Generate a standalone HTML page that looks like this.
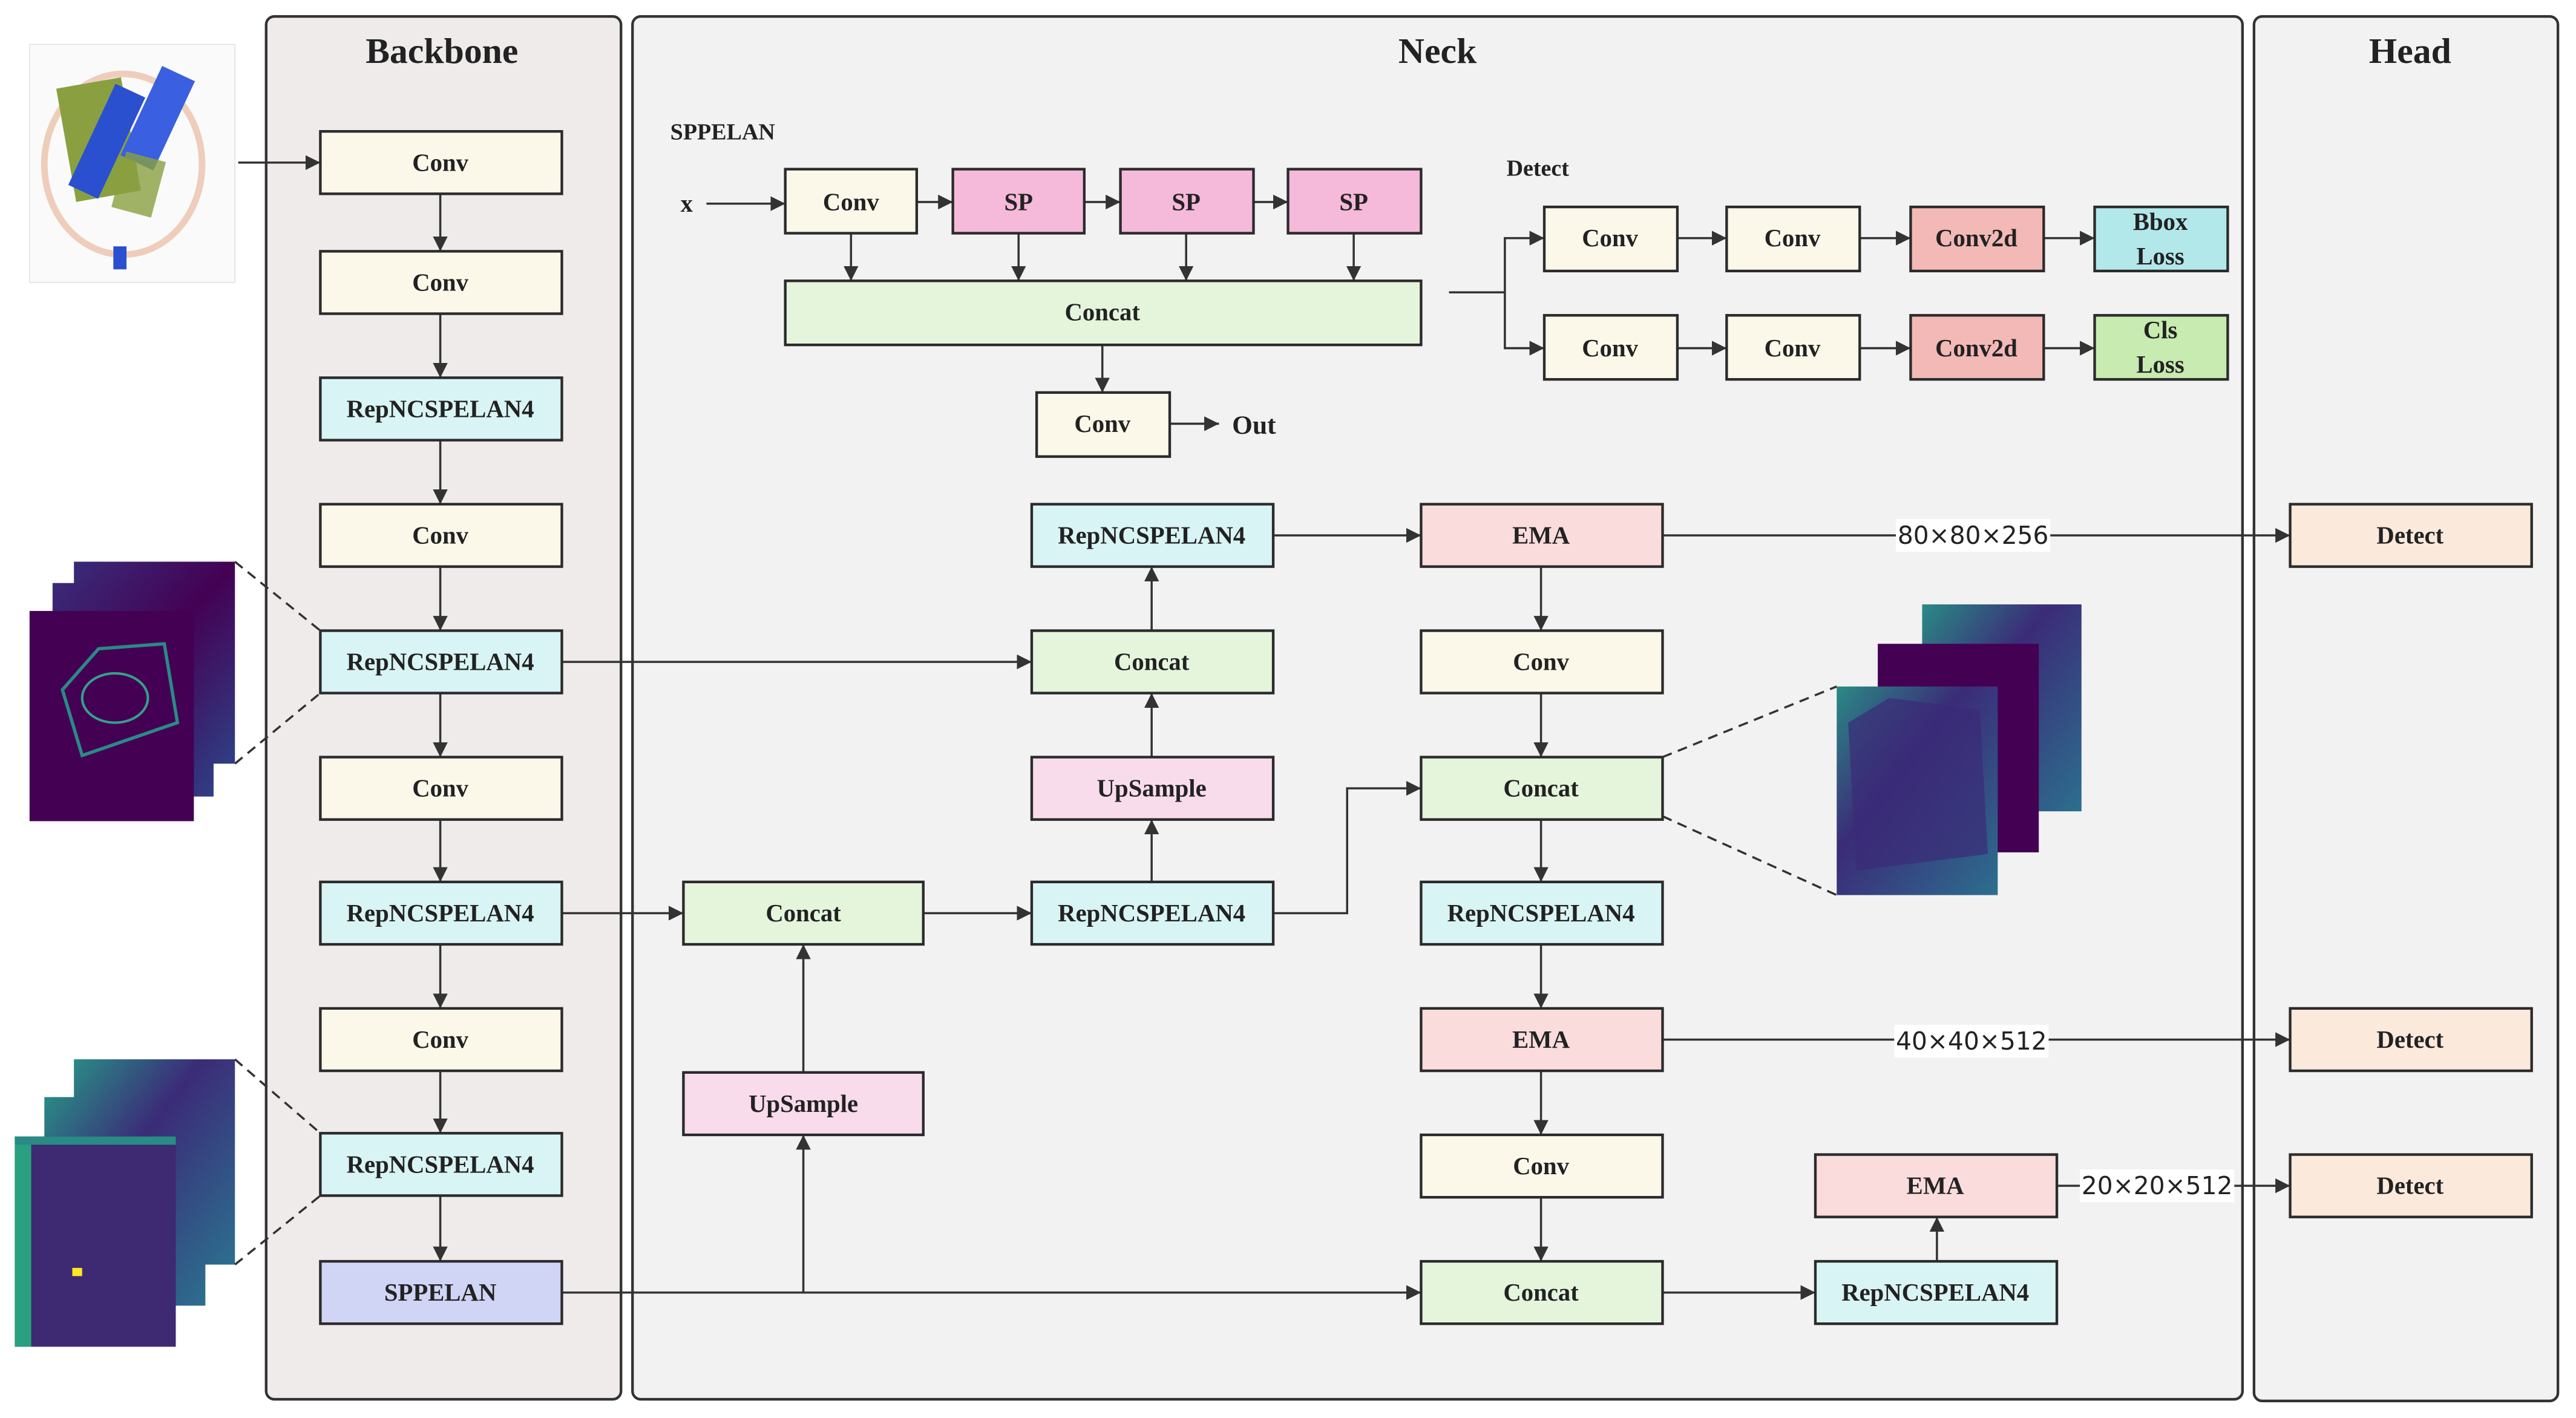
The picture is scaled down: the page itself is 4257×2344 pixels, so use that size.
<!DOCTYPE html>
<html><head><meta charset="utf-8"><style>html,body{margin:0;padding:0;background:#fff}svg{display:block}</style></head>
<body>
<svg width="4257" height="2344" viewBox="0 0 1568 863.4" preserveAspectRatio="none" xmlns="http://www.w3.org/2000/svg">
<defs>
<marker id="a" viewBox="0 0 10 10" refX="10" refY="5" markerWidth="9" markerHeight="9" markerUnits="userSpaceOnUse" orient="auto"><path d="M0,0L10,5L0,10z" fill="#333"/></marker>
<linearGradient id="g1" x1="0" y1="0" x2="1" y2="1"><stop offset="0" stop-color="#3a2a78"/><stop offset="0.5" stop-color="#440154"/><stop offset="1" stop-color="#2f3f85"/></linearGradient>
<linearGradient id="g2" x1="0" y1="0" x2="1" y2="1"><stop offset="0" stop-color="#2a8a86"/><stop offset="0.4" stop-color="#3b2b78"/><stop offset="1" stop-color="#2c6f8e"/></linearGradient>
</defs>
<style>
text{font-family:"Liberation Serif",serif;font-weight:bold;fill:#222}
.b{stroke:#2b2b2b;stroke-width:1.6}
.t{font-size:15px;text-anchor:middle;dominant-baseline:central}
.l{stroke:#333;stroke-width:1.3;fill:none}
.d{stroke:#333;stroke-width:1.3;fill:none;stroke-dasharray:6,4}
.lab{font-family:"DejaVu Sans",sans-serif;font-weight:normal;font-size:15px;text-anchor:middle;dominant-baseline:central}
</style>
<!-- panels -->
<rect x="162" y="10" width="216" height="842" rx="5" fill="#efebea" stroke="#333" stroke-width="1.6"/>
<rect x="385" y="10" width="980" height="842" rx="5" fill="#f2f2f2" stroke="#333" stroke-width="1.6"/>
<rect x="1372" y="10" width="185" height="843" rx="5" fill="#f2f2f2" stroke="#333" stroke-width="1.6"/>
<text x="269" y="31" font-size="22" text-anchor="middle" dominant-baseline="central">Backbone</text>
<text x="875" y="31" font-size="22" text-anchor="middle" dominant-baseline="central">Neck</text>
<text x="1467" y="31" font-size="22" text-anchor="middle" dominant-baseline="central">Head</text>

<!-- input image -->
<rect x="18" y="27" width="125" height="145" fill="#fafafa" stroke="#ddd" stroke-width="0.5"/>
<ellipse cx="75" cy="100" rx="48" ry="55" fill="none" stroke="#e8b9a0" stroke-width="4" opacity="0.7"/>
<rect x="40" y="50" width="40" height="70" fill="#8aa040" transform="rotate(-10 60 85)"/>
<rect x="55" y="52" width="20" height="68" fill="#2a50d0" transform="rotate(25 65 86)"/>
<rect x="85" y="42" width="22" height="60" fill="#3a5fe0" transform="rotate(25 96 72)"/>
<rect x="72" y="95" width="25" height="35" fill="#8aa040" opacity="0.8" transform="rotate(15 85 112)"/>
<rect x="69" y="150" width="8" height="14" fill="#2a50d0"/>

<!-- feature stacks left top -->
<rect x="45" y="342" width="98" height="123" fill="url(#g1)"/>
<rect x="32" y="355" width="98" height="130" fill="url(#g1)"/>
<rect x="18" y="372" width="100" height="128" fill="#440154"/>
<path d="M38,420 L60,395 L100,392 L108,440 L50,460 Z" fill="none" stroke="#2a8a86" stroke-width="2"/>
<ellipse cx="70" cy="425" rx="20" ry="15" fill="none" stroke="#35a08a" stroke-width="1.5"/>
<!-- feature stacks left bottom -->
<rect x="45" y="645" width="98" height="125" fill="url(#g2)"/>
<rect x="27" y="668" width="98" height="127" fill="url(#g2)"/>
<rect x="9" y="692" width="98" height="128" fill="#3d2a72"/>
<rect x="9" y="692" width="10" height="128" fill="#2aa080"/>
<rect x="9" y="692" width="98" height="5" fill="#2a8a86"/>
<rect x="44" y="772" width="6" height="5" fill="#fde725"/>
<!-- feature stacks right -->
<rect x="1170" y="368" width="97" height="126" fill="url(#g2)"/>
<rect x="1143" y="392" width="98" height="127" fill="#440154"/>
<rect x="1118" y="418" width="98" height="127" fill="url(#g2)"/>
<path d="M1125,440 L1150,425 L1205,432 L1210,520 L1130,530 Z" fill="#3b2b78" opacity="0.7"/>

<!-- dashed -->
<path class="d" d="M143,342L195,384M143,465L195,422M143,645L195,690M143,770L195,728M1012,461L1118,418M1012,497L1118,545"/>

<!-- connectors -->
<g class="l" marker-end="url(#a)">
<path d="M145,99H195"/>
<path d="M268,118V153"/><path d="M268,191V230"/><path d="M268,268V307"/><path d="M268,345V384"/><path d="M268,422V461"/><path d="M268,499V537"/><path d="M268,575V614"/><path d="M268,652V690"/><path d="M268,728V768"/>
<path d="M430,124H478"/><path d="M558,123H580"/><path d="M660,123H682"/><path d="M763,123H784"/>
<path d="M518,142V171"/><path d="M620,142V171"/><path d="M722,142V171"/><path d="M824,142V171"/>
<path d="M671,210V239"/><path d="M712,258H742"/>
<path d="M882,178H916V145H940"/><path d="M916,178V212H940"/>
<path d="M1021,145H1051"/><path d="M1132,145H1163"/><path d="M1244,145H1275"/>
<path d="M1021,212H1051"/><path d="M1132,212H1163"/><path d="M1244,212H1275"/>
<path d="M342,403H628"/>
<path d="M342,556H416"/><path d="M562,556H628"/><path d="M775,556H820V480H865"/>
<path d="M701,537V499"/><path d="M701,461V422"/><path d="M701,384V345"/>
<path d="M775,326H865"/><path d="M1012,326H1394"/>
<path d="M938,345V384"/><path d="M938,422V461"/><path d="M938,499V537"/><path d="M938,575V614"/><path d="M938,652V691"/><path d="M938,729V768"/>
<path d="M1012,633H1394"/>
<path d="M342,787H865"/><path d="M489,787V691"/><path d="M489,653V575"/>
<path d="M1012,787H1105"/><path d="M1179,768V741"/><path d="M1252,722H1394"/>
</g>
<rect x="1154" y="316" width="94" height="20" fill="#fff"/><text class="lab" x="1201" y="326">80×80×256</text>
<rect x="1153" y="624" width="94" height="20" fill="#fff"/><text class="lab" x="1200" y="634">40×40×512</text>
<rect x="1266" y="712" width="94" height="20" fill="#fff"/><text class="lab" x="1313" y="722">20×20×512</text>
<text x="408" y="85" font-size="14">SPPELAN</text>
<text x="418" y="124" font-size="15" font-family="Liberation Sans" dominant-baseline="central" text-anchor="middle">x</text>
<text x="750" y="259" font-size="16" font-family="Liberation Sans" dominant-baseline="central">Out</text>
<text x="917" y="107" font-size="14">Detect</text>

<!-- boxes -->
<g class="b">
<rect x="195" y="80" width="147" height="38" fill="#fbf8ea"/>
<rect x="195" y="153" width="147" height="38" fill="#fbf8ea"/>
<rect x="195" y="230" width="147" height="38" fill="#d9f4f4"/>
<rect x="195" y="307" width="147" height="38" fill="#fbf8ea"/>
<rect x="195" y="384" width="147" height="38" fill="#d9f4f4"/>
<rect x="195" y="461" width="147" height="38" fill="#fbf8ea"/>
<rect x="195" y="537" width="147" height="38" fill="#d9f4f4"/>
<rect x="195" y="614" width="147" height="38" fill="#fbf8ea"/>
<rect x="195" y="690" width="147" height="38" fill="#d9f4f4"/>
<rect x="195" y="768" width="147" height="38" fill="#d0d4f5"/>
<rect x="478" y="103" width="80" height="39" fill="#fbf8ea"/>
<rect x="580" y="103" width="80" height="39" fill="#f5b9d9"/>
<rect x="682" y="103" width="81" height="39" fill="#f5b9d9"/>
<rect x="784" y="103" width="81" height="39" fill="#f5b9d9"/>
<rect x="478" y="171" width="387" height="39" fill="#e4f5dc"/>
<rect x="631" y="239" width="81" height="39" fill="#fbf8ea"/>
<rect x="940" y="126" width="81" height="39" fill="#fbf8ea"/>
<rect x="1051" y="126" width="81" height="39" fill="#fbf8ea"/>
<rect x="1163" y="126" width="81" height="39" fill="#f3b9b6"/>
<rect x="1275" y="126" width="81" height="39" fill="#b3e8ea"/>
<rect x="940" y="192" width="81" height="39" fill="#fbf8ea"/>
<rect x="1051" y="192" width="81" height="39" fill="#fbf8ea"/>
<rect x="1163" y="192" width="81" height="39" fill="#f3b9b6"/>
<rect x="1275" y="192" width="81" height="39" fill="#c7ebb0"/>
<rect x="628" y="307" width="147" height="38" fill="#d9f4f4"/>
<rect x="628" y="384" width="147" height="38" fill="#e4f5dc"/>
<rect x="628" y="461" width="147" height="38" fill="#f9dcec"/>
<rect x="628" y="537" width="147" height="38" fill="#d9f4f4"/>
<rect x="416" y="537" width="146" height="38" fill="#e4f5dc"/>
<rect x="416" y="653" width="146" height="38" fill="#f9dcec"/>
<rect x="865" y="307" width="147" height="38" fill="#fadcdc"/>
<rect x="865" y="384" width="147" height="38" fill="#fbf8ea"/>
<rect x="865" y="461" width="147" height="38" fill="#e4f5dc"/>
<rect x="865" y="537" width="147" height="38" fill="#d9f4f4"/>
<rect x="865" y="614" width="147" height="38" fill="#fadcdc"/>
<rect x="865" y="691" width="147" height="38" fill="#fbf8ea"/>
<rect x="865" y="768" width="147" height="38" fill="#e4f5dc"/>
<rect x="1105" y="703" width="147" height="38" fill="#fadcdc"/>
<rect x="1105" y="768" width="147" height="38" fill="#d9f4f4"/>
<rect x="1394" y="307" width="147" height="38" fill="#fbe9dc"/>
<rect x="1394" y="614" width="147" height="38" fill="#fbe9dc"/>
<rect x="1394" y="703" width="147" height="38" fill="#fbe9dc"/>
</g>
<g class="t">
<text class="t" x="268" y="99">Conv</text>
<text class="t" x="268" y="172">Conv</text>
<text class="t" x="268" y="249">RepNCSPELAN4</text>
<text class="t" x="268" y="326">Conv</text>
<text class="t" x="268" y="403">RepNCSPELAN4</text>
<text class="t" x="268" y="480">Conv</text>
<text class="t" x="268" y="556">RepNCSPELAN4</text>
<text class="t" x="268" y="633">Conv</text>
<text class="t" x="268" y="709">RepNCSPELAN4</text>
<text class="t" x="268" y="787">SPPELAN</text>
<text class="t" x="518" y="123">Conv</text>
<text class="t" x="620" y="123">SP</text>
<text class="t" x="722" y="123">SP</text>
<text class="t" x="824" y="123">SP</text>
<text class="t" x="671" y="190">Concat</text>
<text class="t" x="671" y="258">Conv</text>
<text class="t" x="980" y="145">Conv</text>
<text class="t" x="1091" y="145">Conv</text>
<text class="t" x="1203" y="145">Conv2d</text>
<text class="t" x="1315" y="135">Bbox</text>
<text class="t" x="1315" y="156">Loss</text>
<text class="t" x="980" y="212">Conv</text>
<text class="t" x="1091" y="212">Conv</text>
<text class="t" x="1203" y="212">Conv2d</text>
<text class="t" x="1315" y="201">Cls</text>
<text class="t" x="1315" y="222">Loss</text>
<text class="t" x="701" y="326">RepNCSPELAN4</text>
<text class="t" x="701" y="403">Concat</text>
<text class="t" x="701" y="480">UpSample</text>
<text class="t" x="701" y="556">RepNCSPELAN4</text>
<text class="t" x="489" y="556">Concat</text>
<text class="t" x="489" y="672">UpSample</text>
<text class="t" x="938" y="326">EMA</text>
<text class="t" x="938" y="403">Conv</text>
<text class="t" x="938" y="480">Concat</text>
<text class="t" x="938" y="556">RepNCSPELAN4</text>
<text class="t" x="938" y="633">EMA</text>
<text class="t" x="938" y="710">Conv</text>
<text class="t" x="938" y="787">Concat</text>
<text class="t" x="1178" y="722">EMA</text>
<text class="t" x="1178" y="787">RepNCSPELAN4</text>
<text class="t" x="1467" y="326">Detect</text>
<text class="t" x="1467" y="633">Detect</text>
<text class="t" x="1467" y="722">Detect</text>
</g>
</svg>
</body></html>
